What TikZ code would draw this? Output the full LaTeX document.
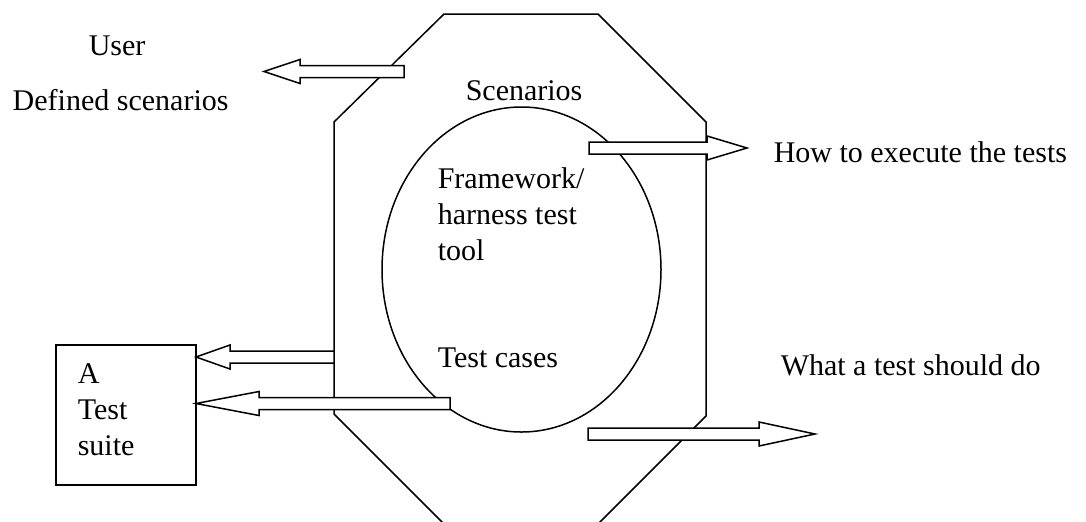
\documentclass[tikz,border=0pt]{standalone}
\usepackage{fontspec}
\setmainfont{Liberation Serif}
\usetikzlibrary{calc}
\def\blockarrow[#1](#2:#3:#4:#5){\draw[#1] ({#2},{#5-6}) -- ({#4},{#5-6}) -- ({#4},{#5-12}) -- ({#3},{#5}) -- ({#4},{#5+12}) -- ({#4},{#5+6}) -- ({#2},{#5+6}) -- cycle;}

\begin{document}
\begin{tikzpicture}[x=0.5pt, y=-0.5pt, line width=0.75pt,
  font=\fontsize{15}{18}\selectfont,
  lbl/.style={anchor=base west, inner sep=0pt, align=left}]
			%%%%% START %%%%%
			\useasboundingbox (0, 0) rectangle (1086, 521);
			
			\draw (444, 14) -- (598, 14) -- (706, 122) -- (706, 416) -- (598, 524) -- (444, 524) -- (334, 414) -- (334, 122) -- cycle;
			\draw (521.5, 269.5) ellipse (139.5 and 162.5);
			
			\node[draw, minimum width=70pt, minimum height=70pt, inner sep=0pt] (suite) at (126, 415) {};
			
			\blockarrow[fill=white](404:264:300:71.5);
			\blockarrow[fill=white](589:747:707:148);
			\blockarrow[fill=white](588:815:759:434);
			\blockarrow[fill=white](334:196:230:357);
			\blockarrow[fill=white](450:196:259:403.5);
			
			\node[lbl] (user) at (88, 55) {User};
			\node[lbl] (defined) at (12, 110) {Defined scenarios};
			\node[lbl] (scen) at (465, 100) {Scenarios};
			\node[lbl] (frame) at (437, 260) {Framework/\\harness test\\tool};
			\node[lbl] (cases) at (437, 367) {Test cases};
			\node[lbl] (how) at (773, 162) {How to execute the tests};
			\node[lbl] (what) at (780, 375) {What a test should do};
			\node[lbl] (atest) at (77, 455) {A\\Test\\suite};
			%%%%% END %%%%%
		\end{tikzpicture}
\end{document}
